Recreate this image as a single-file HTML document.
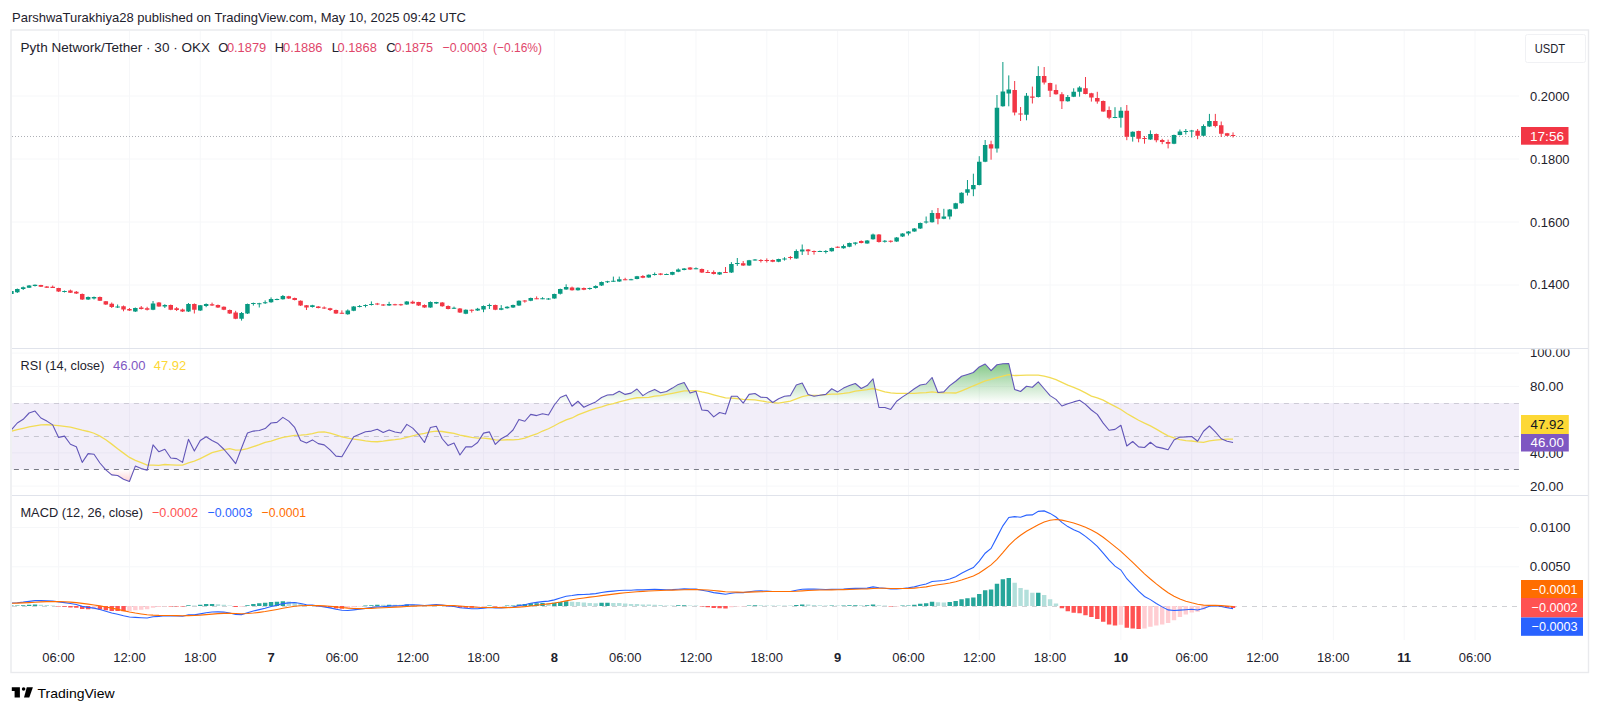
<!DOCTYPE html>
<html><head><meta charset="utf-8"><style>
html,body{margin:0;padding:0;background:#fff;width:1600px;height:712px;overflow:hidden}
svg{display:block}
</style></head><body>
<svg width="1600" height="712" viewBox="0 0 1600 712" font-family="Liberation Sans, sans-serif">
<rect x="0" y="0" width="1600" height="712" fill="#fff"/>
<rect x="11" y="30" width="1577.5" height="642.5" fill="#fff" stroke="#e9eaed" stroke-width="1.4"/>
<defs><clipPath id="plot"><rect x="12" y="31" width="1507" height="609"/></clipPath></defs><g clip-path="url(#plot)"><path d="M58.61 31V640 M129.43 31V640 M200.25 31V640 M271.07 31V640 M341.89 31V640 M412.71 31V640 M483.53 31V640 M554.35 31V640 M625.17 31V640 M695.99 31V640 M766.8 31V640 M837.62 31V640 M908.44 31V640 M979.26 31V640 M1050.08 31V640 M1120.9 31V640 M1191.72 31V640 M1262.54 31V640 M1333.36 31V640 M1404.18 31V640 M1475 31V640 M12 96H1519 M12 159H1519 M12 222H1519 M12 285H1519 M12 353.1H1519 M12 386.4H1519 M12 452.9H1519 M12 486.1H1519 M12 527.6H1519 M12 566.8H1519" stroke="#f6f7f9" stroke-width="1" fill="none"/>
<rect x="12" y="403" width="1507" height="66.5" fill="#7e57c2" fill-opacity="0.1"/>
<path d="M12 403.5H1519" stroke="#787b86" stroke-opacity="0.3" stroke-dasharray="5 5" stroke-dashoffset="8.1" stroke-width="1"/>
<path d="M12 436.5H1519" stroke="#787b86" stroke-opacity="0.35" stroke-dasharray="5 5" stroke-dashoffset="8.1" stroke-width="1"/>
<path d="M12 469.5H1519" stroke="#787b86" stroke-opacity="1" stroke-dasharray="5 5" stroke-dashoffset="8.1" stroke-width="1"/>
<path d="M12 136.5H1521" stroke="#787b86" stroke-opacity="0.6" stroke-dasharray="1 2" stroke-width="1"/>
<path d="M11.4 290V294.5 M17.3 288.5V293 M23.2 286.5V290 M29.1 285V288 M35.01 284.5V286.5 M64.51 290.5V292.5 M88.12 296.5V300 M94.02 296.5V299.5 M117.63 304.5V308 M135.33 307.5V312 M153.04 301V310.2 M164.84 304.2V308 M188.45 303V312 M200.25 305V311 M206.15 303.4V307.2 M241.56 312V320.6 M247.46 303.6V314 M253.37 302.6V305.6 M259.27 302.8V307.5 M265.17 300.4V304 M271.07 297.4V302.8 M276.97 298.5V300.2 M282.87 295V299.6 M312.38 304.8V307.6 M347.79 309.4V314.8 M353.69 306V311.2 M359.59 305.1V307.4 M365.5 304.4V307.4 M371.4 301.4V305.5 M389.1 301.8V306 M406.81 301V304.8 M430.41 301.4V307.8 M436.32 301.8V304 M454.02 306.6V309 M465.82 309.4V314.2 M477.63 307.9V311 M483.53 305.4V312.2 M489.43 303.6V309 M501.23 305.1V310.2 M507.13 306.2V308.7 M513.04 304.6V308 M518.94 300.4V306 M530.74 297.6V301.2 M542.54 297.2V299.2 M548.45 298V299.8 M554.35 293.6V298.8 M560.25 288.6V294.5 M566.15 284.3V289.8 M577.95 287.4V290.6 M589.76 287.6V289.8 M595.66 285.3V288.6 M601.56 281.5V286 M607.46 280.8V283 M613.36 276.6V281.9 M619.26 276.6V281.9 M631.07 278.8V280.2 M636.97 275.9V279.3 M648.77 274.4V277.8 M654.67 272.5V275.5 M666.48 273.6V275 M672.38 271.7V275.2 M678.28 268.4V272.2 M684.18 268V270.3 M695.99 267.4V269.2 M719.59 271.9V274.9 M731.4 262.1V273 M737.3 258V265.9 M749.1 259.9V265.9 M755 259V260.6 M778.61 258.7V262.2 M784.51 257.2V260.6 M796.31 249.4V258.8 M802.21 244.5V255 M819.92 250.6V252 M825.82 250.1V253.5 M831.72 247.5V251.7 M843.53 244.5V248.7 M849.43 242.6V247.2 M855.33 242.2V245.3 M867.13 240V243.8 M873.03 233.6V239.7 M884.84 240V242.6 M896.64 237V241.9 M902.54 233.2V237 M908.44 231V235.5 M914.34 228V231.8 M920.25 222.5V229 M926.15 216.5V223.6 M932.05 210.2V222.6 M943.85 208.8V219.2 M949.75 209V219.4 M955.66 202.8V209.2 M961.56 192.3V203.6 M967.46 180V195.5 M973.36 173.7V196.2 M979.26 156.2V185.4 M985.16 140V162.2 M996.97 95V152.6 M1002.87 62V106.7 M1008.77 75.4V106.3 M1026.48 93V120.3 M1038.28 66.2V97.5 M1067.79 95V101.7 M1073.69 88.3V97.1 M1079.59 86.2V96.7 M1115 107.2V118.2 M1120.9 107.2V127.6 M1132.7 131.4V141.6 M1150.41 130.4V139.9 M1174.02 134.6V144.2 M1179.92 129.5V135.4 M1185.82 129V134.5 M1191.72 129.9V137.5 M1203.52 124.4V136.2 M1209.42 113.9V126.9" stroke="#089981" stroke-width="1" fill="none"/>
<path d="M40.91 284.8V287 M46.81 286V288 M52.71 285.5V288 M58.61 287.8V292 M70.42 289.6V293 M76.32 291V294 M82.22 293.5V300 M99.92 296.5V301 M105.83 301V305 M111.73 302.5V308 M123.53 305.5V311.3 M129.43 308V311 M141.24 306V309.5 M147.14 306.8V310.5 M158.94 302V306.8 M170.74 304.5V310.2 M176.64 307V311 M182.55 308.6V312 M194.35 303.4V313.5 M212.05 302.6V306 M217.96 304.5V308 M223.86 306.4V310.2 M229.76 309.5V314 M235.66 310.8V319.2 M288.78 295.8V299 M294.68 297.6V300.4 M300.58 300.4V306 M306.48 305V310 M318.28 306V308.4 M324.18 306.4V309 M330.09 307.8V311 M335.99 309.6V314 M341.89 310.4V313.8 M377.3 302.9V305.1 M383.2 304V306 M395 303.8V305.4 M400.91 303.8V305.8 M412.71 300.6V304 M418.61 301.8V306 M424.51 304.4V307.8 M442.22 302V306.8 M448.12 305.4V309.4 M459.92 308V313 M471.72 309.4V312.6 M495.33 304.6V310.2 M524.84 300V302.7 M536.64 296.4V299.2 M572.05 286.6V290.6 M583.86 287.5V290.2 M625.17 277.8V280.2 M642.87 275.1V278.2 M660.58 273.2V275.2 M690.08 267V270 M701.89 268.5V273 M707.79 270V273 M713.69 270.4V274.5 M725.49 267V273 M743.2 261V265.9 M760.9 259.1V262.5 M766.8 258.4V262.5 M772.71 259.5V262.2 M790.41 256.1V259.5 M808.12 249V255 M814.02 250.5V254.6 M837.62 246.4V248 M861.23 240.4V243.4 M878.94 234V242.6 M890.74 240.4V242.6 M937.95 208V224.3 M991.07 140.7V159.7 M1014.67 81V115.4 M1020.57 107V121 M1032.38 86.6V103.5 M1044.18 67V84.5 M1050.08 82.7V97 M1055.98 84.5V94.7 M1061.88 92.2V109 M1085.49 77V94.3 M1091.39 92.8V101.6 M1097.29 91.8V103.7 M1103.2 100.5V111.8 M1109.1 106.5V119.2 M1126.8 105V140.2 M1138.61 130.7V142.3 M1144.51 136V143.7 M1156.31 133.5V142.3 M1162.21 138.8V144.2 M1168.11 139.6V148.4 M1197.62 129V139.2 M1215.33 113.9V127.4 M1221.23 121.5V137 M1227.13 132.9V136.2 M1233.03 132.4V137.5" stroke="#f23645" stroke-width="1" fill="none"/>
<path d="M9.15 291h4.5v3h-4.5z M15.05 289h4.5v3.3h-4.5z M20.95 287.3h4.5v1.7h-4.5z M26.85 285.6h4.5v2.1h-4.5z M32.76 284.8h4.5v1.2h-4.5z M62.26 291h4.5v1h-4.5z M85.87 297h4.5v2.5h-4.5z M91.77 297h4.5v1.6h-4.5z M115.38 306.6h4.5v1h-4.5z M133.08 307.9h4.5v3.7h-4.5z M150.79 303.4h4.5v6.4h-4.5z M162.59 304.9h4.5v1.5h-4.5z M186.2 304h4.5v7.6h-4.5z M198 305.3h4.5v5.2h-4.5z M203.9 304.1h4.5v1.9h-4.5z M239.31 313.1h4.5v5.7h-4.5z M245.21 304.1h4.5v9.4h-4.5z M251.12 303h4.5v1h-4.5z M257.02 303.2h4.5v1h-4.5z M262.92 302.2h4.5v1.1h-4.5z M268.82 298.9h4.5v3.4h-4.5z M274.72 299h4.5v1h-4.5z M280.62 295.9h4.5v3.4h-4.5z M310.13 305.3h4.5v1.8h-4.5z M345.54 310.5h4.5v3.8h-4.5z M351.44 306.6h4.5v4.2h-4.5z M357.34 306h4.5v1h-4.5z M363.25 305h4.5v1h-4.5z M369.15 304h4.5v1h-4.5z M386.85 304h4.5v1.5h-4.5z M404.56 301.4h4.5v3h-4.5z M428.16 302.1h4.5v5.3h-4.5z M434.07 302.1h4.5v1.5h-4.5z M451.77 307.8h4.5v1h-4.5z M463.57 309.8h4.5v4h-4.5z M475.38 308.7h4.5v1.9h-4.5z M481.28 305.9h4.5v3.6h-4.5z M487.18 305h4.5v1h-4.5z M498.98 308.3h4.5v1.5h-4.5z M504.88 306.7h4.5v1.6h-4.5z M510.79 305.1h4.5v2.4h-4.5z M516.69 300.8h4.5v4.7h-4.5z M528.49 298h4.5v2.8h-4.5z M540.29 298.2h4.5v1h-4.5z M546.2 298.4h4.5v1h-4.5z M552.1 294.1h4.5v4.3h-4.5z M558 289h4.5v4.7h-4.5z M563.9 287h4.5v2.4h-4.5z M575.7 287.8h4.5v2.4h-4.5z M587.51 288h4.5v1h-4.5z M593.41 286h4.5v1.9h-4.5z M599.31 281.9h4.5v3.7h-4.5z M605.21 281.2h4.5v1h-4.5z M611.11 280.8h4.5v1h-4.5z M617.01 279.3h4.5v2.2h-4.5z M628.82 279.2h4.5v1h-4.5z M634.72 276.3h4.5v2.6h-4.5z M646.52 274.8h4.5v2.6h-4.5z M652.42 274h4.5v1.1h-4.5z M664.23 274h4.5v1h-4.5z M670.13 272.1h4.5v2.7h-4.5z M676.03 269.5h4.5v2.3h-4.5z M681.93 268.4h4.5v1.5h-4.5z M693.74 268.2h4.5v1h-4.5z M717.34 272.3h4.5v2.2h-4.5z M729.15 264h4.5v8.6h-4.5z M735.05 263.1h4.5v1h-4.5z M746.85 260.3h4.5v5.2h-4.5z M752.75 259.6h4.5v1h-4.5z M776.36 259.1h4.5v2.7h-4.5z M782.26 258.5h4.5v1h-4.5z M794.06 250.9h4.5v7.5h-4.5z M799.96 249.4h4.5v2.2h-4.5z M817.67 251h4.5v1h-4.5z M823.57 251h4.5v1h-4.5z M829.47 247.9h4.5v3.4h-4.5z M841.28 246h4.5v2.3h-4.5z M847.18 243h4.5v3.8h-4.5z M853.08 242.6h4.5v1.2h-4.5z M864.88 240.4h4.5v3h-4.5z M870.78 234.4h4.5v4.9h-4.5z M882.59 240.8h4.5v1h-4.5z M894.39 237.4h4.5v4.1h-4.5z M900.29 233.6h4.5v3h-4.5z M906.19 231.4h4.5v2.2h-4.5z M912.09 228.4h4.5v3h-4.5z M918 222.9h4.5v5.6h-4.5z M923.9 221.5h4.5v1h-4.5z M929.8 213h4.5v9.2h-4.5z M941.6 216.6h4.5v2.1h-4.5z M947.5 209.5h4.5v7h-4.5z M953.41 203.2h4.5v5.6h-4.5z M959.31 192.7h4.5v10.5h-4.5z M965.21 189.2h4.5v3.5h-4.5z M971.11 185h4.5v4.2h-4.5z M977.01 161.8h4.5v23.2h-4.5z M982.91 144.9h4.5v16.9h-4.5z M994.72 107.7h4.5v40.7h-4.5z M1000.62 91.5h4.5v14.8h-4.5z M1006.52 89.4h4.5v4.2h-4.5z M1024.23 95.7h4.5v19h-4.5z M1036.03 76h4.5v21.1h-4.5z M1065.54 97.1h4.5v4.2h-4.5z M1071.44 91.8h4.5v4.9h-4.5z M1077.34 87.6h4.5v4.2h-4.5z M1112.75 116.9h4.5v1h-4.5z M1118.65 110.7h4.5v7.1h-4.5z M1130.45 131.8h4.5v4.9h-4.5z M1148.16 133.9h4.5v5.6h-4.5z M1171.77 135h4.5v8.8h-4.5z M1177.67 131.6h4.5v3.4h-4.5z M1183.57 131h4.5v1h-4.5z M1189.47 130.4h4.5v1h-4.5z M1201.27 126.1h4.5v9.7h-4.5z M1207.17 121.1h4.5v5.4h-4.5z" fill="#089981"/>
<path d="M38.66 285h4.5v1.8h-4.5z M44.56 286.4h4.5v1.3h-4.5z M50.46 286.8h4.5v1.1h-4.5z M56.36 288.1h4.5v3.4h-4.5z M68.17 290.6h4.5v2.1h-4.5z M74.07 291.7h4.5v1.7h-4.5z M79.97 294h4.5v5.5h-4.5z M97.67 297h4.5v3.7h-4.5z M103.58 301.2h4.5v3.3h-4.5z M109.48 303.7h4.5v3.3h-4.5z M121.28 306.2h4.5v3.4h-4.5z M127.18 309h4.5v1.5h-4.5z M138.99 307.5h4.5v1.5h-4.5z M144.89 308.2h4.5v1.5h-4.5z M156.69 302.6h4.5v3.8h-4.5z M168.49 304.9h4.5v4.9h-4.5z M174.39 308.2h4.5v1.8h-4.5z M180.3 309.4h4.5v2.2h-4.5z M192.1 304h4.5v5.8h-4.5z M209.8 304.2h4.5v1.4h-4.5z M215.71 304.9h4.5v2.6h-4.5z M221.61 306.8h4.5v3h-4.5z M227.51 310h4.5v3.5h-4.5z M233.41 312.4h4.5v6.4h-4.5z M286.53 296.3h4.5v2.2h-4.5z M292.43 298.1h4.5v1.9h-4.5z M298.33 300.8h4.5v4.8h-4.5z M304.23 305.3h4.5v2.2h-4.5z M316.03 306.4h4.5v1.5h-4.5z M321.93 307.6h4.5v1h-4.5z M327.84 308.3h4.5v1.8h-4.5z M333.74 310.1h4.5v3.4h-4.5z M339.64 312.8h4.5v1h-4.5z M375.05 303.4h4.5v1h-4.5z M380.95 304.4h4.5v1.1h-4.5z M392.75 304.2h4.5v1h-4.5z M398.66 304.2h4.5v1h-4.5z M410.46 301.8h4.5v1.8h-4.5z M416.36 302.1h4.5v3.4h-4.5z M422.26 305.1h4.5v2.3h-4.5z M439.97 302.5h4.5v3.8h-4.5z M445.87 305.9h4.5v3h-4.5z M457.67 308.5h4.5v4.1h-4.5z M469.47 309.8h4.5v1h-4.5z M493.08 305.1h4.5v4.7h-4.5z M522.59 300.4h4.5v1.2h-4.5z M534.39 298.2h4.5v1h-4.5z M569.8 287.4h4.5v2.8h-4.5z M581.61 287.9h4.5v1.9h-4.5z M622.92 279.2h4.5v1h-4.5z M640.62 275.9h4.5v1.9h-4.5z M658.33 273.6h4.5v1.2h-4.5z M687.83 267.4h4.5v2.2h-4.5z M699.64 268.9h4.5v3.7h-4.5z M705.54 272h4.5v1h-4.5z M711.44 271.9h4.5v2.2h-4.5z M723.24 272h4.5v1h-4.5z M740.95 263.3h4.5v2.2h-4.5z M758.65 259.9h4.5v1h-4.5z M764.55 259.9h4.5v1h-4.5z M770.46 259.9h4.5v1.9h-4.5z M788.16 257h4.5v1h-4.5z M805.87 249.4h4.5v1.9h-4.5z M811.77 251h4.5v1h-4.5z M835.37 246.8h4.5v1h-4.5z M858.98 241.1h4.5v1.9h-4.5z M876.69 234.4h4.5v7.5h-4.5z M888.49 240.8h4.5v1h-4.5z M935.7 213h4.5v5.7h-4.5z M988.82 144.2h4.5v4.2h-4.5z M1012.42 90.1h4.5v22.5h-4.5z M1018.32 113.5h4.5v1h-4.5z M1030.13 96.4h4.5v1.4h-4.5z M1041.93 76h4.5v6.4h-4.5z M1047.83 83.1h4.5v7.7h-4.5z M1053.73 90.1h4.5v4.2h-4.5z M1059.63 94.3h4.5v7h-4.5z M1083.24 88.3h4.5v5.6h-4.5z M1089.14 93.2h4.5v4.2h-4.5z M1095.04 98.1h4.5v3.5h-4.5z M1100.95 100.9h4.5v10.5h-4.5z M1106.85 110h4.5v7.8h-4.5z M1124.55 110.7h4.5v26h-4.5z M1136.36 131.1h4.5v7.7h-4.5z M1142.26 138h4.5v1h-4.5z M1154.06 133.9h4.5v6.3h-4.5z M1159.96 140h4.5v2.1h-4.5z M1165.86 142.1h4.5v1.7h-4.5z M1195.37 130.7h4.5v5.1h-4.5z M1213.08 121.1h4.5v5h-4.5z M1218.98 125.3h4.5v8.4h-4.5z M1224.88 133.3h4.5v2.5h-4.5z M1230.78 135h4.5v1h-4.5z" fill="#f23645"/>
<defs><linearGradient id="gob" gradientUnits="userSpaceOnUse" x1="0" y1="353.2" x2="0" y2="403"><stop offset="0" stop-color="#4caf50" stop-opacity="0.85"/><stop offset="1" stop-color="#4caf50" stop-opacity="0"/></linearGradient><linearGradient id="gos" gradientUnits="userSpaceOnUse" x1="0" y1="469.5" x2="0" y2="519"><stop offset="0" stop-color="#ff5252" stop-opacity="0"/><stop offset="1" stop-color="#ff5252" stop-opacity="1"/></linearGradient><clipPath id="cob"><rect x="0" y="340" width="1600" height="63"/></clipPath><clipPath id="cos"><rect x="0" y="469.5" width="1600" height="30"/></clipPath></defs>
<polygon points="11.4,403 11.4,429.9 17.3,423 23.2,419.3 29.1,413 35.01,411.1 40.91,418 46.81,421.1 52.71,424.9 58.61,437.4 64.51,436.1 70.42,444.3 76.32,446.8 82.22,462.4 88.12,453.6 94.02,454.3 99.92,463 105.83,469.9 111.73,474.9 117.63,475.5 123.53,479.3 129.43,481.5 135.33,466.1 141.24,468.6 147.14,470.3 153.04,444.9 158.94,451.8 164.84,449.3 170.74,458 176.64,458.6 182.55,462.4 188.45,439.3 194.35,451.1 200.25,440.5 206.15,436.8 212.05,440.5 217.96,443.6 223.86,449.25 229.76,456.1 235.66,463.6 241.56,448 247.46,433 253.37,431.1 259.27,430.5 265.17,428.6 271.07,423 276.97,422.4 282.87,417.4 288.78,421.1 294.68,427.4 300.58,440.5 306.48,443 312.38,439.9 318.28,443.6 324.18,444.9 330.09,449.9 335.99,456.1 341.89,456.75 347.79,446.75 353.69,436.75 359.59,434.25 365.5,431.75 371.4,431.1 377.3,429.25 383.2,432.4 389.1,429.9 395,432 400.91,433 406.81,424.4 412.71,428.1 418.61,434.4 424.51,442.5 430.41,427.5 436.32,426.25 442.22,438.75 448.12,445.6 454.02,443.1 459.92,455 465.82,446.9 471.72,446.9 477.63,442.5 483.53,433.1 489.43,431.9 495.33,444.4 501.23,438.75 507.13,435.6 513.04,430 518.94,419.4 524.84,421.25 530.74,414.4 536.64,415.6 542.54,413.75 548.45,415 554.35,405 560.25,397.5 566.15,395 572.05,406.25 577.95,401.25 583.86,407.25 589.76,404.4 595.66,401.9 601.56,397.5 607.46,395 613.36,394.6 619.26,391.25 625.17,394.4 631.07,393.1 636.97,389 642.87,395.6 648.77,391.9 654.67,389.4 660.58,392.75 666.48,391.5 672.38,388.1 678.28,384.4 684.18,382.5 690.08,393.1 695.99,391.25 701.89,410 707.79,410.6 713.69,416.9 719.59,412.5 725.49,414 731.4,396.25 737.3,396.25 743.2,403.1 749.1,394.4 755,393.5 760.9,397.25 766.8,397.5 772.71,402.5 778.61,398.75 784.51,396.25 790.41,395.6 796.31,385 802.21,383.1 808.12,394.4 814.02,396.25 819.92,395.25 825.82,394.4 831.72,388.75 837.62,391.9 843.53,388.1 849.43,385.6 855.33,383.5 861.23,388.5 867.13,385.6 873.03,378.75 878.94,407.5 884.84,407.5 890.74,409.4 896.64,401.25 902.54,396.9 908.44,393.1 914.34,388.75 920.25,385 926.15,384 932.05,377.5 937.95,392.5 943.85,391.9 949.75,385.6 955.66,381.25 961.56,376.25 967.46,374.4 973.36,372.5 979.26,366.9 985.16,364 991.07,370.6 996.97,364.75 1002.87,363.75 1008.77,363.5 1014.67,389.4 1020.57,391.5 1026.48,386.25 1032.38,387.25 1038.28,381.9 1044.18,388.75 1050.08,395.6 1055.98,399.4 1061.88,406 1067.79,403.75 1073.69,401.9 1079.59,400.25 1085.49,404.4 1091.39,410 1097.29,414.4 1103.2,423.1 1109.1,430.25 1115,429.4 1120.9,425.25 1126.8,446 1132.7,441.5 1138.61,446.9 1144.51,447.5 1150.41,442.25 1156.31,446.9 1162.21,448.1 1168.11,449.75 1174.02,440 1179.92,437.1 1185.82,436.9 1191.72,436.5 1197.62,441.25 1203.52,431.25 1209.42,426 1215.33,431.9 1221.23,438.75 1227.13,441.25 1233.03,442.5 1233.03,403" fill="url(#gob)" clip-path="url(#cob)"/>
<polygon points="11.4,469.5 11.4,429.9 17.3,423 23.2,419.3 29.1,413 35.01,411.1 40.91,418 46.81,421.1 52.71,424.9 58.61,437.4 64.51,436.1 70.42,444.3 76.32,446.8 82.22,462.4 88.12,453.6 94.02,454.3 99.92,463 105.83,469.9 111.73,474.9 117.63,475.5 123.53,479.3 129.43,481.5 135.33,466.1 141.24,468.6 147.14,470.3 153.04,444.9 158.94,451.8 164.84,449.3 170.74,458 176.64,458.6 182.55,462.4 188.45,439.3 194.35,451.1 200.25,440.5 206.15,436.8 212.05,440.5 217.96,443.6 223.86,449.25 229.76,456.1 235.66,463.6 241.56,448 247.46,433 253.37,431.1 259.27,430.5 265.17,428.6 271.07,423 276.97,422.4 282.87,417.4 288.78,421.1 294.68,427.4 300.58,440.5 306.48,443 312.38,439.9 318.28,443.6 324.18,444.9 330.09,449.9 335.99,456.1 341.89,456.75 347.79,446.75 353.69,436.75 359.59,434.25 365.5,431.75 371.4,431.1 377.3,429.25 383.2,432.4 389.1,429.9 395,432 400.91,433 406.81,424.4 412.71,428.1 418.61,434.4 424.51,442.5 430.41,427.5 436.32,426.25 442.22,438.75 448.12,445.6 454.02,443.1 459.92,455 465.82,446.9 471.72,446.9 477.63,442.5 483.53,433.1 489.43,431.9 495.33,444.4 501.23,438.75 507.13,435.6 513.04,430 518.94,419.4 524.84,421.25 530.74,414.4 536.64,415.6 542.54,413.75 548.45,415 554.35,405 560.25,397.5 566.15,395 572.05,406.25 577.95,401.25 583.86,407.25 589.76,404.4 595.66,401.9 601.56,397.5 607.46,395 613.36,394.6 619.26,391.25 625.17,394.4 631.07,393.1 636.97,389 642.87,395.6 648.77,391.9 654.67,389.4 660.58,392.75 666.48,391.5 672.38,388.1 678.28,384.4 684.18,382.5 690.08,393.1 695.99,391.25 701.89,410 707.79,410.6 713.69,416.9 719.59,412.5 725.49,414 731.4,396.25 737.3,396.25 743.2,403.1 749.1,394.4 755,393.5 760.9,397.25 766.8,397.5 772.71,402.5 778.61,398.75 784.51,396.25 790.41,395.6 796.31,385 802.21,383.1 808.12,394.4 814.02,396.25 819.92,395.25 825.82,394.4 831.72,388.75 837.62,391.9 843.53,388.1 849.43,385.6 855.33,383.5 861.23,388.5 867.13,385.6 873.03,378.75 878.94,407.5 884.84,407.5 890.74,409.4 896.64,401.25 902.54,396.9 908.44,393.1 914.34,388.75 920.25,385 926.15,384 932.05,377.5 937.95,392.5 943.85,391.9 949.75,385.6 955.66,381.25 961.56,376.25 967.46,374.4 973.36,372.5 979.26,366.9 985.16,364 991.07,370.6 996.97,364.75 1002.87,363.75 1008.77,363.5 1014.67,389.4 1020.57,391.5 1026.48,386.25 1032.38,387.25 1038.28,381.9 1044.18,388.75 1050.08,395.6 1055.98,399.4 1061.88,406 1067.79,403.75 1073.69,401.9 1079.59,400.25 1085.49,404.4 1091.39,410 1097.29,414.4 1103.2,423.1 1109.1,430.25 1115,429.4 1120.9,425.25 1126.8,446 1132.7,441.5 1138.61,446.9 1144.51,447.5 1150.41,442.25 1156.31,446.9 1162.21,448.1 1168.11,449.75 1174.02,440 1179.92,437.1 1185.82,436.9 1191.72,436.5 1197.62,441.25 1203.52,431.25 1209.42,426 1215.33,431.9 1221.23,438.75 1227.13,441.25 1233.03,442.5 1233.03,469.5" fill="url(#gos)" clip-path="url(#cos)"/>
<polyline points="11.4,431.1 17.3,429.73 23.2,428.27 29.1,426.98 35.01,425.93 40.91,424.87 46.81,424.75 52.71,425.15 58.61,425.58 64.51,426.4 70.42,427.22 76.32,428.63 82.22,430.22 88.12,431.49 94.02,433.24 99.92,436.09 105.83,439.71 111.73,444.13 117.63,448.73 123.53,453.11 129.43,457.42 135.33,460.36 141.24,462.59 147.14,465.04 153.04,465.08 158.94,465.44 164.84,464.5 170.74,464.81 176.64,465.12 182.55,465.08 188.45,462.89 194.35,461.19 200.25,458.69 206.15,455.66 212.05,452.73 217.96,451.12 223.86,449.74 229.76,448.73 235.66,450.06 241.56,449.79 247.46,448.63 253.37,446.7 259.27,444.7 265.17,442.28 271.07,441.12 276.97,439.07 282.87,437.42 288.78,436.3 294.68,435.36 300.58,435.14 306.48,434.69 312.38,433.54 318.28,432.11 324.18,431.89 330.09,433.09 335.99,434.88 341.89,436.75 347.79,438.05 353.69,439.03 359.59,439.88 365.5,440.9 371.4,441.62 377.3,441.75 383.2,441.17 389.1,440.24 395,439.67 400.91,438.91 406.81,437.45 412.71,435.89 418.61,434.34 424.51,433.32 430.41,431.95 436.32,431.2 442.22,431.52 448.12,432.51 454.02,433.37 459.92,435.21 465.82,436.24 471.72,437.46 477.63,438.21 483.53,438.21 489.43,438.75 495.33,439.91 501.23,440.22 507.13,439.73 513.04,439.91 518.94,439.42 524.84,438.17 530.74,435.94 536.64,433.98 542.54,431.03 548.45,428.75 554.35,425.76 560.25,422.55 566.15,419.82 572.05,417.99 577.95,414.91 583.86,412.66 589.76,410.43 595.66,408.42 601.56,406.86 607.46,404.99 613.36,403.57 619.26,401.83 625.17,400.45 631.07,398.89 636.97,397.74 642.87,397.61 648.77,397.39 654.67,396.18 660.58,395.57 666.48,394.45 672.38,393.29 678.28,392.04 684.18,390.96 690.08,390.83 695.99,390.59 701.89,391.93 707.79,393.09 713.69,394.79 719.59,396.46 725.49,397.78 731.4,398.09 737.3,398.58 743.2,399.32 749.1,399.53 755,399.91 760.9,400.83 766.8,401.9 772.71,402.57 778.61,403.11 784.51,402.12 790.41,401.05 796.31,398.78 802.21,396.68 808.12,395.28 814.02,395.28 819.92,395.2 825.82,394.58 831.72,394.18 837.62,394.06 843.53,393.41 849.43,392.56 855.33,391.2 861.23,390.47 867.13,389.71 873.03,388.51 878.94,390.11 884.84,391.86 890.74,392.93 896.64,393.29 902.54,393.4 908.44,393.31 914.34,393.31 920.25,392.82 926.15,392.53 932.05,391.95 937.95,392.59 943.85,392.83 949.75,392.83 955.66,393.01 961.56,390.78 967.46,388.41 973.36,385.78 979.26,383.32 985.16,380.97 991.07,379.37 996.97,377.65 1002.87,376.14 1008.77,374.67 1014.67,375.52 1020.57,375.45 1026.48,375.05 1032.38,375.16 1038.28,375.21 1044.18,376.1 1050.08,377.62 1055.98,379.54 1061.88,382.33 1067.79,385.17 1073.69,387.41 1079.59,389.94 1085.49,392.85 1091.39,396.17 1097.29,397.95 1103.2,400.21 1109.1,403.35 1115,406.36 1120.9,409.46 1126.8,413.55 1132.7,416.83 1138.61,420.22 1144.51,423.19 1150.41,425.94 1156.31,429.15 1162.21,432.57 1168.11,435.81 1174.02,437.95 1179.92,439.57 1185.82,440.56 1191.72,441 1197.62,441.85 1203.52,442.28 1209.42,440.85 1215.33,440.16 1221.23,439.58 1227.13,439.14 1233.03,439.15" fill="none" stroke="#f2dc55" stroke-width="1.3"/>
<polyline points="11.4,429.9 17.3,423 23.2,419.3 29.1,413 35.01,411.1 40.91,418 46.81,421.1 52.71,424.9 58.61,437.4 64.51,436.1 70.42,444.3 76.32,446.8 82.22,462.4 88.12,453.6 94.02,454.3 99.92,463 105.83,469.9 111.73,474.9 117.63,475.5 123.53,479.3 129.43,481.5 135.33,466.1 141.24,468.6 147.14,470.3 153.04,444.9 158.94,451.8 164.84,449.3 170.74,458 176.64,458.6 182.55,462.4 188.45,439.3 194.35,451.1 200.25,440.5 206.15,436.8 212.05,440.5 217.96,443.6 223.86,449.25 229.76,456.1 235.66,463.6 241.56,448 247.46,433 253.37,431.1 259.27,430.5 265.17,428.6 271.07,423 276.97,422.4 282.87,417.4 288.78,421.1 294.68,427.4 300.58,440.5 306.48,443 312.38,439.9 318.28,443.6 324.18,444.9 330.09,449.9 335.99,456.1 341.89,456.75 347.79,446.75 353.69,436.75 359.59,434.25 365.5,431.75 371.4,431.1 377.3,429.25 383.2,432.4 389.1,429.9 395,432 400.91,433 406.81,424.4 412.71,428.1 418.61,434.4 424.51,442.5 430.41,427.5 436.32,426.25 442.22,438.75 448.12,445.6 454.02,443.1 459.92,455 465.82,446.9 471.72,446.9 477.63,442.5 483.53,433.1 489.43,431.9 495.33,444.4 501.23,438.75 507.13,435.6 513.04,430 518.94,419.4 524.84,421.25 530.74,414.4 536.64,415.6 542.54,413.75 548.45,415 554.35,405 560.25,397.5 566.15,395 572.05,406.25 577.95,401.25 583.86,407.25 589.76,404.4 595.66,401.9 601.56,397.5 607.46,395 613.36,394.6 619.26,391.25 625.17,394.4 631.07,393.1 636.97,389 642.87,395.6 648.77,391.9 654.67,389.4 660.58,392.75 666.48,391.5 672.38,388.1 678.28,384.4 684.18,382.5 690.08,393.1 695.99,391.25 701.89,410 707.79,410.6 713.69,416.9 719.59,412.5 725.49,414 731.4,396.25 737.3,396.25 743.2,403.1 749.1,394.4 755,393.5 760.9,397.25 766.8,397.5 772.71,402.5 778.61,398.75 784.51,396.25 790.41,395.6 796.31,385 802.21,383.1 808.12,394.4 814.02,396.25 819.92,395.25 825.82,394.4 831.72,388.75 837.62,391.9 843.53,388.1 849.43,385.6 855.33,383.5 861.23,388.5 867.13,385.6 873.03,378.75 878.94,407.5 884.84,407.5 890.74,409.4 896.64,401.25 902.54,396.9 908.44,393.1 914.34,388.75 920.25,385 926.15,384 932.05,377.5 937.95,392.5 943.85,391.9 949.75,385.6 955.66,381.25 961.56,376.25 967.46,374.4 973.36,372.5 979.26,366.9 985.16,364 991.07,370.6 996.97,364.75 1002.87,363.75 1008.77,363.5 1014.67,389.4 1020.57,391.5 1026.48,386.25 1032.38,387.25 1038.28,381.9 1044.18,388.75 1050.08,395.6 1055.98,399.4 1061.88,406 1067.79,403.75 1073.69,401.9 1079.59,400.25 1085.49,404.4 1091.39,410 1097.29,414.4 1103.2,423.1 1109.1,430.25 1115,429.4 1120.9,425.25 1126.8,446 1132.7,441.5 1138.61,446.9 1144.51,447.5 1150.41,442.25 1156.31,446.9 1162.21,448.1 1168.11,449.75 1174.02,440 1179.92,437.1 1185.82,436.9 1191.72,436.5 1197.62,441.25 1203.52,431.25 1209.42,426 1215.33,431.9 1221.23,438.75 1227.13,441.25 1233.03,442.5" fill="none" stroke="#6256b8" stroke-width="1.1" stroke-linejoin="round"/>
<path d="M12 606.5H1519" stroke="#787b86" stroke-opacity="0.35" stroke-dasharray="5 5"/>
<path d="M9.2 605.4h4.4v0.6h-4.4z M15.1 605.4h4.4v0.6h-4.4z M21 605.2h4.4v0.8h-4.4z M26.9 604.75h4.4v1.25h-4.4z M32.81 604.43h4.4v1.57h-4.4z M186.25 605.33h4.4v0.67h-4.4z M198.05 604.73h4.4v1.27h-4.4z M203.95 604.08h4.4v1.92h-4.4z M209.85 603.93h4.4v2.07h-4.4z M245.26 605.22h4.4v0.78h-4.4z M251.17 603.97h4.4v2.03h-4.4z M257.07 603.27h4.4v2.73h-4.4z M262.97 602.75h4.4v3.25h-4.4z M268.87 602.02h4.4v3.98h-4.4z M274.77 601.75h4.4v4.25h-4.4z M280.67 601.27h4.4v4.73h-4.4z M363.3 605.4h4.4v0.6h-4.4z M369.2 605.16h4.4v0.84h-4.4z M375.1 604.79h4.4v1.21h-4.4z M386.9 604.68h4.4v1.32h-4.4z M404.61 604.44h4.4v1.56h-4.4z M428.21 605.31h4.4v0.69h-4.4z M434.12 605.09h4.4v0.91h-4.4z M487.23 605.4h4.4v0.6h-4.4z M504.93 605.4h4.4v0.6h-4.4z M510.84 605.4h4.4v0.6h-4.4z M516.74 604.5h4.4v1.5h-4.4z M522.64 604.1h4.4v1.9h-4.4z M528.54 603.36h4.4v2.64h-4.4z M534.44 603.16h4.4v2.84h-4.4z M540.34 603.1h4.4v2.9h-4.4z M552.15 602.84h4.4v3.16h-4.4z M558.05 601.95h4.4v4.05h-4.4z M563.95 601.32h4.4v4.68h-4.4z M599.36 602.85h4.4v3.15h-4.4z M605.26 602.8h4.4v3.2h-4.4z M676.08 605.26h4.4v0.74h-4.4z M681.98 605.15h4.4v0.85h-4.4z M746.9 605.4h4.4v0.6h-4.4z M752.8 605.16h4.4v0.84h-4.4z M794.11 605.06h4.4v0.94h-4.4z M800.01 604.43h4.4v1.57h-4.4z M829.52 605.4h4.4v0.6h-4.4z M841.33 605.4h4.4v0.6h-4.4z M847.23 605.22h4.4v0.78h-4.4z M853.13 605.14h4.4v0.86h-4.4z M864.93 605.26h4.4v0.74h-4.4z M870.83 604.44h4.4v1.56h-4.4z M900.34 605.4h4.4v0.6h-4.4z M906.24 605.4h4.4v0.6h-4.4z M912.14 604.79h4.4v1.21h-4.4z M918.05 603.75h4.4v2.25h-4.4z M923.95 603.16h4.4v2.84h-4.4z M929.85 601.76h4.4v4.24h-4.4z M947.55 601.99h4.4v4.01h-4.4z M953.46 601.06h4.4v4.94h-4.4z M959.36 599.29h4.4v6.71h-4.4z M965.26 598.21h4.4v7.79h-4.4z M971.16 597.52h4.4v8.48h-4.4z M977.06 594.11h4.4v11.89h-4.4z M982.96 590.2h4.4v15.8h-4.4z M988.87 589.47h4.4v16.53h-4.4z M994.77 583.76h4.4v22.24h-4.4z M1000.67 579.19h4.4v26.81h-4.4z M1006.57 577.88h4.4v28.12h-4.4z M1036.08 592.67h4.4v13.33h-4.4z" fill="#26a69a"/>
<path d="M38.71 604.67h4.4v1.33h-4.4z M44.61 605.07h4.4v0.93h-4.4z M50.51 605.4h4.4v0.6h-4.4z M192.15 605.4h4.4v0.6h-4.4z M215.76 604.18h4.4v1.82h-4.4z M221.66 604.72h4.4v1.28h-4.4z M227.56 605.4h4.4v0.6h-4.4z M286.58 601.62h4.4v4.38h-4.4z M292.48 602.29h4.4v3.71h-4.4z M298.38 603.8h4.4v2.2h-4.4z M304.28 605.16h4.4v0.84h-4.4z M310.18 605.4h4.4v0.6h-4.4z M381 604.84h4.4v1.16h-4.4z M392.8 604.76h4.4v1.24h-4.4z M398.71 604.87h4.4v1.13h-4.4z M410.51 604.61h4.4v1.39h-4.4z M416.41 605.08h4.4v0.92h-4.4z M422.31 605.4h4.4v0.6h-4.4z M440.02 605.4h4.4v0.6h-4.4z M546.25 603.26h4.4v2.74h-4.4z M569.85 601.73h4.4v4.27h-4.4z M575.75 601.89h4.4v4.11h-4.4z M581.66 602.58h4.4v3.42h-4.4z M587.56 602.99h4.4v3.01h-4.4z M593.46 603.16h4.4v2.84h-4.4z M611.16 602.98h4.4v3.02h-4.4z M617.06 603.12h4.4v2.88h-4.4z M622.97 603.55h4.4v2.45h-4.4z M628.87 603.97h4.4v2.03h-4.4z M634.77 604.01h4.4v1.99h-4.4z M640.67 604.5h4.4v1.5h-4.4z M646.57 604.55h4.4v1.45h-4.4z M652.47 604.66h4.4v1.34h-4.4z M658.38 605.07h4.4v0.93h-4.4z M664.28 605.38h4.4v0.62h-4.4z M670.18 605.4h4.4v0.6h-4.4z M687.88 605.4h4.4v0.6h-4.4z M693.79 605.4h4.4v0.6h-4.4z M758.7 605.2h4.4v0.8h-4.4z M764.6 605.4h4.4v0.6h-4.4z M770.51 605.4h4.4v0.6h-4.4z M776.41 605.4h4.4v0.6h-4.4z M782.31 605.4h4.4v0.6h-4.4z M788.21 605.4h4.4v0.6h-4.4z M805.92 604.56h4.4v1.44h-4.4z M811.82 604.9h4.4v1.1h-4.4z M817.72 605.22h4.4v0.78h-4.4z M823.62 605.4h4.4v0.6h-4.4z M835.42 605.4h4.4v0.6h-4.4z M859.03 605.35h4.4v0.65h-4.4z M876.74 605.36h4.4v0.64h-4.4z M882.64 605.4h4.4v0.6h-4.4z M935.75 602.2h4.4v3.8h-4.4z M941.65 602.53h4.4v3.47h-4.4z M1012.47 582.79h4.4v23.21h-4.4z M1018.37 587.98h4.4v18.02h-4.4z M1024.28 589.83h4.4v16.17h-4.4z M1030.18 592.85h4.4v13.15h-4.4z M1041.98 595.02h4.4v10.98h-4.4z M1047.88 599.17h4.4v6.83h-4.4z M1053.78 603.47h4.4v2.53h-4.4z" fill="#b2dfdb"/>
<path d="M91.82 606h4.4v3.19h-4.4z M127.23 606h4.4v5.09h-4.4z M133.13 606h4.4v4.33h-4.4z M139.04 606h4.4v3.74h-4.4z M144.94 606h4.4v3.21h-4.4z M150.84 606h4.4v1.63h-4.4z M156.74 606h4.4v0.95h-4.4z M162.64 606h4.4v0.6h-4.4z M239.36 606h4.4v0.87h-4.4z M345.59 606h4.4v2.37h-4.4z M351.49 606h4.4v1.35h-4.4z M357.39 606h4.4v0.6h-4.4z M475.43 606h4.4v1.43h-4.4z M481.33 606h4.4v0.67h-4.4z M499.03 606h4.4v0.6h-4.4z M729.2 606h4.4v1.26h-4.4z M735.1 606h4.4v0.6h-4.4z M741 606h4.4v0.6h-4.4z M894.44 606h4.4v0.6h-4.4z M1118.7 606h4.4v18.7h-4.4z M1142.31 606h4.4v22.62h-4.4z M1148.21 606h4.4v20.65h-4.4z M1154.11 606h4.4v19.59h-4.4z M1160.01 606h4.4v18.4h-4.4z M1165.91 606h4.4v17.12h-4.4z M1171.82 606h4.4v14.14h-4.4z M1177.72 606h4.4v11.07h-4.4z M1183.62 606h4.4v8.54h-4.4z M1189.52 606h4.4v6.45h-4.4z M1195.42 606h4.4v5.69h-4.4z M1201.32 606h4.4v3.39h-4.4z M1207.22 606h4.4v0.98h-4.4z M1213.13 606h4.4v0.6h-4.4z" fill="#ffcdd2"/>
<path d="M56.41 606h4.4v0.6h-4.4z M62.31 606h4.4v0.81h-4.4z M68.22 606h4.4v1.39h-4.4z M74.12 606h4.4v1.82h-4.4z M80.02 606h4.4v3.01h-4.4z M85.92 606h4.4v3.21h-4.4z M97.72 606h4.4v3.61h-4.4z M103.63 606h4.4v4.29h-4.4z M109.53 606h4.4v4.88h-4.4z M115.43 606h4.4v4.92h-4.4z M121.33 606h4.4v5.13h-4.4z M168.54 606h4.4v0.6h-4.4z M174.44 606h4.4v0.6h-4.4z M180.35 606h4.4v0.6h-4.4z M233.46 606h4.4v1.04h-4.4z M316.08 606h4.4v0.6h-4.4z M321.98 606h4.4v1.08h-4.4z M327.89 606h4.4v1.62h-4.4z M333.79 606h4.4v2.42h-4.4z M339.69 606h4.4v2.77h-4.4z M445.92 606h4.4v0.6h-4.4z M451.82 606h4.4v0.78h-4.4z M457.72 606h4.4v1.7h-4.4z M463.62 606h4.4v1.74h-4.4z M469.52 606h4.4v1.8h-4.4z M493.13 606h4.4v0.6h-4.4z M699.69 606h4.4v0.6h-4.4z M705.59 606h4.4v1.3h-4.4z M711.49 606h4.4v2.07h-4.4z M717.39 606h4.4v2.3h-4.4z M723.29 606h4.4v2.51h-4.4z M888.54 606h4.4v0.6h-4.4z M1059.68 606h4.4v2.2h-4.4z M1065.59 606h4.4v5.17h-4.4z M1071.49 606h4.4v6.68h-4.4z M1077.39 606h4.4v7.36h-4.4z M1083.29 606h4.4v9.15h-4.4z M1089.19 606h4.4v11.07h-4.4z M1095.09 606h4.4v13.05h-4.4z M1101 606h4.4v15.84h-4.4z M1106.9 606h4.4v18.4h-4.4z M1112.8 606h4.4v19.49h-4.4z M1124.6 606h4.4v21.87h-4.4z M1130.5 606h4.4v22.38h-4.4z M1136.41 606h4.4v23.03h-4.4z M1219.03 606h4.4v0.95h-4.4z M1224.93 606h4.4v1.7h-4.4z M1230.83 606h4.4v2.08h-4.4z" fill="#ff5252"/>
<polyline points="11.4,603.11 17.3,602.72 23.2,602.12 29.1,601.36 35.01,600.65 40.91,600.56 46.81,600.73 52.71,600.96 58.61,601.91 64.51,602.61 70.42,603.53 76.32,604.43 82.22,606.36 88.12,607.37 94.02,608.15 99.92,609.47 105.83,611.22 111.73,613.04 117.63,614.3 123.53,615.79 129.43,617.03 135.33,617.35 141.24,617.69 147.14,617.97 153.04,616.79 158.94,616.35 164.84,615.58 170.74,615.85 176.64,615.98 182.55,616.3 188.45,614.91 194.35,614.88 200.25,613.85 206.15,612.72 212.05,612.06 217.96,611.85 223.86,612.08 229.76,612.92 235.66,614.56 241.56,614.62 247.46,612.76 253.37,611.02 259.27,609.63 265.17,608.3 271.07,606.58 276.97,605.24 282.87,603.58 288.78,602.83 294.68,602.58 300.58,603.53 306.48,604.69 312.38,605.17 318.28,606.08 324.18,606.93 330.09,607.88 335.99,609.28 341.89,610.32 347.79,610.51 353.69,609.83 359.59,609.14 365.5,608.35 371.4,607.52 377.3,606.84 383.2,606.6 389.1,606.11 395,605.88 400.91,605.71 406.81,604.89 412.71,604.71 418.61,604.95 424.51,605.54 430.41,604.95 436.32,604.49 442.22,604.99 448.12,605.91 454.02,606.42 459.92,607.77 465.82,608.24 471.72,608.75 477.63,608.74 483.53,608.14 489.43,607.46 495.33,607.88 501.23,607.88 507.13,607.54 513.04,606.94 518.94,605.6 524.84,604.72 530.74,603.32 536.64,602.41 542.54,601.63 548.45,601.1 554.35,599.88 560.25,597.99 566.15,596.19 572.05,595.53 577.95,594.66 583.86,594.5 589.76,594.15 595.66,593.61 601.56,592.52 607.46,591.67 613.36,591.09 619.26,590.51 625.17,590.32 631.07,590.24 636.97,589.78 642.87,589.9 648.77,589.58 654.67,589.36 660.58,589.53 666.48,589.7 672.38,589.63 678.28,589.25 684.18,588.92 690.08,589.1 695.99,589.15 701.89,590.26 707.79,591.31 713.69,592.6 719.59,593.4 725.49,594.23 731.4,593.31 737.3,592.54 743.2,592.58 749.1,591.72 755,591.07 760.9,590.92 766.8,590.96 772.71,591.43 778.61,591.43 784.51,591.47 790.41,591.49 796.31,590.33 802.21,589.3 808.12,589.07 814.02,589.14 819.92,589.26 825.82,589.55 831.72,589.35 837.62,589.32 843.53,589.17 849.43,588.64 855.33,588.35 861.23,588.4 867.13,588.12 873.03,586.91 878.94,587.68 884.84,588.26 890.74,589.05 896.64,589.06 902.54,588.5 908.44,587.82 914.34,586.9 920.25,585.3 926.15,584 932.05,581.54 937.95,581.03 943.85,580.49 949.75,578.95 955.66,576.79 961.56,573.34 967.46,570.31 973.36,567.5 979.26,561.11 985.16,553.25 991.07,548.39 996.97,537.12 1002.87,525.85 1008.77,517.51 1014.67,516.61 1020.57,517.31 1026.48,515.11 1032.38,514.85 1038.28,511.33 1044.18,510.93 1050.08,513.38 1055.98,517.05 1061.88,522.33 1067.79,526.59 1073.69,529.77 1079.59,532.29 1085.49,536.37 1091.39,541.05 1097.29,546.3 1103.2,553.05 1109.1,560.21 1115,566.17 1120.9,570.05 1126.8,578.69 1132.7,584.79 1138.61,591.21 1144.51,596.44 1150.41,599.64 1156.31,603.47 1162.21,606.88 1168.11,609.88 1174.02,610.43 1179.92,610.14 1185.82,609.74 1191.72,609.26 1197.62,609.93 1203.52,608.47 1209.42,606.31 1215.33,605.61 1221.23,606.57 1227.13,607.75 1233.03,608.64" fill="none" stroke="#2962ff" stroke-width="1.1"/>
<polyline points="11.4,603.22 17.3,603.12 23.2,602.92 29.1,602.61 35.01,602.22 40.91,601.89 46.81,601.65 52.71,601.51 58.61,601.59 64.51,601.8 70.42,602.15 76.32,602.6 82.22,603.35 88.12,604.16 94.02,604.95 99.92,605.86 105.83,606.93 111.73,608.15 117.63,609.38 123.53,610.66 129.43,611.94 135.33,613.02 141.24,613.95 147.14,614.76 153.04,615.16 158.94,615.4 164.84,615.44 170.74,615.52 176.64,615.61 182.55,615.75 188.45,615.58 194.35,615.44 200.25,615.12 206.15,614.64 212.05,614.13 217.96,613.67 223.86,613.35 229.76,613.27 235.66,613.53 241.56,613.74 247.46,613.55 253.37,613.04 259.27,612.36 265.17,611.55 271.07,610.55 276.97,609.49 282.87,608.31 288.78,607.21 294.68,606.29 300.58,605.74 306.48,605.53 312.38,605.46 318.28,605.58 324.18,605.85 330.09,606.25 335.99,606.86 341.89,607.55 347.79,608.15 353.69,608.48 359.59,608.61 365.5,608.56 371.4,608.35 377.3,608.05 383.2,607.76 389.1,607.43 395,607.12 400.91,606.84 406.81,606.45 412.71,606.1 418.61,605.87 424.51,605.8 430.41,605.63 436.32,605.4 442.22,605.32 448.12,605.44 454.02,605.64 459.92,606.06 465.82,606.5 471.72,606.95 477.63,607.31 483.53,607.47 489.43,607.47 495.33,607.55 501.23,607.62 507.13,607.6 513.04,607.47 518.94,607.1 524.84,606.62 530.74,605.96 536.64,605.25 542.54,604.53 548.45,603.84 554.35,603.05 560.25,602.04 566.15,600.87 572.05,599.8 577.95,598.77 583.86,597.92 589.76,597.17 595.66,596.45 601.56,595.67 607.46,594.87 613.36,594.11 619.26,593.39 625.17,592.78 631.07,592.27 636.97,591.77 642.87,591.4 648.77,591.03 654.67,590.7 660.58,590.46 666.48,590.31 672.38,590.17 678.28,589.99 684.18,589.78 690.08,589.64 695.99,589.54 701.89,589.69 707.79,590.01 713.69,590.53 719.59,591.1 725.49,591.73 731.4,592.04 737.3,592.14 743.2,592.23 749.1,592.13 755,591.92 760.9,591.72 766.8,591.57 772.71,591.54 778.61,591.52 784.51,591.51 790.41,591.5 796.31,591.27 802.21,590.88 808.12,590.51 814.02,590.24 819.92,590.04 825.82,589.95 831.72,589.83 837.62,589.73 843.53,589.61 849.43,589.42 855.33,589.21 861.23,589.04 867.13,588.86 873.03,588.47 878.94,588.31 884.84,588.3 890.74,588.45 896.64,588.57 902.54,588.56 908.44,588.41 914.34,588.11 920.25,587.55 926.15,586.84 932.05,585.78 937.95,584.83 943.85,583.96 949.75,582.96 955.66,581.72 961.56,580.05 967.46,578.1 973.36,575.98 979.26,573.01 985.16,569.06 991.07,564.92 996.97,559.36 1002.87,552.66 1008.77,545.63 1014.67,539.83 1020.57,535.32 1026.48,531.28 1032.38,527.99 1038.28,524.66 1044.18,521.91 1050.08,520.21 1055.98,519.57 1061.88,520.13 1067.79,521.42 1073.69,523.09 1079.59,524.93 1085.49,527.22 1091.39,529.98 1097.29,533.25 1103.2,537.21 1109.1,541.81 1115,546.68 1120.9,551.35 1126.8,556.82 1132.7,562.41 1138.61,568.17 1144.51,573.83 1150.41,578.99 1156.31,583.89 1162.21,588.49 1168.11,592.76 1174.02,596.3 1179.92,599.07 1185.82,601.2 1191.72,602.81 1197.62,604.24 1203.52,605.08 1209.42,605.33 1215.33,605.38 1221.23,605.62 1227.13,606.05 1233.03,606.57" fill="none" stroke="#ff6d00" stroke-width="1.1"/></g>
<path d="M12 348.5H1588M12 495.5H1588" stroke="#e0e3eb" stroke-width="1"/>
<text x="12" y="21.5" font-size="13" fill="#1e222d" textLength="454" lengthAdjust="spacingAndGlyphs">ParshwaTurakhiya28 published on TradingView.com, May 10, 2025 09:42 UTC</text>
<text x="20.6" y="52" font-size="13" fill="#1e222d" textLength="189.4" lengthAdjust="spacingAndGlyphs">Pyth Network/Tether · 30 · OKX</text>
<text x="218.2" y="52" font-size="13" fill="#1e222d">O</text>
<text x="226.9" y="52" font-size="13" fill="#e0466a" textLength="39.3" lengthAdjust="spacingAndGlyphs">0.1879</text>
<text x="274.8" y="52" font-size="13" fill="#1e222d">H</text>
<text x="283" y="52" font-size="13" fill="#e0466a" textLength="39.5" lengthAdjust="spacingAndGlyphs">0.1886</text>
<text x="331.8" y="52" font-size="13" fill="#1e222d">L</text>
<text x="337.5" y="52" font-size="13" fill="#e0466a" textLength="39.3" lengthAdjust="spacingAndGlyphs">0.1868</text>
<text x="386.2" y="52" font-size="13" fill="#1e222d">C</text>
<text x="394.5" y="52" font-size="13" fill="#e0466a" textLength="38.5" lengthAdjust="spacingAndGlyphs">0.1875</text>
<text x="442.5" y="52" font-size="13" fill="#e0466a" textLength="45" lengthAdjust="spacingAndGlyphs">−0.0003</text>
<text x="493" y="52" font-size="13" fill="#e0466a" textLength="49" lengthAdjust="spacingAndGlyphs">(−0.16%)</text>
<text x="20.6" y="370" font-size="13" fill="#1e222d" textLength="83.8" lengthAdjust="spacingAndGlyphs">RSI (14, close)</text>
<text x="113" y="370" font-size="13" fill="#7e57c2" textLength="32.6" lengthAdjust="spacingAndGlyphs">46.00</text>
<text x="153.75" y="370" font-size="13" fill="#fdd835" textLength="32.5" lengthAdjust="spacingAndGlyphs">47.92</text>
<text x="20.4" y="517.4" font-size="13" fill="#1e222d" textLength="122.6" lengthAdjust="spacingAndGlyphs">MACD (12, 26, close)</text>
<text x="152" y="517.4" font-size="13" fill="#ff5252" textLength="46" lengthAdjust="spacingAndGlyphs">−0.0002</text>
<text x="207.6" y="517.4" font-size="13" fill="#2962ff" textLength="44.8" lengthAdjust="spacingAndGlyphs">−0.0003</text>
<text x="261.6" y="517.4" font-size="13" fill="#ff6d00" textLength="44.4" lengthAdjust="spacingAndGlyphs">−0.0001</text>
<text x="1569.5" y="100.6" font-size="13" fill="#1e222d" text-anchor="end" textLength="39.5" lengthAdjust="spacingAndGlyphs">0.2000</text>
<text x="1569.5" y="163.6" font-size="13" fill="#1e222d" text-anchor="end" textLength="39.5" lengthAdjust="spacingAndGlyphs">0.1800</text>
<text x="1569.5" y="226.8" font-size="13" fill="#1e222d" text-anchor="end" textLength="39.5" lengthAdjust="spacingAndGlyphs">0.1600</text>
<text x="1569.5" y="289.2" font-size="13" fill="#1e222d" text-anchor="end" textLength="39.5" lengthAdjust="spacingAndGlyphs">0.1400</text>
<rect x="1525.5" y="34.5" width="60" height="28" rx="2" fill="#fff" stroke="#f0f1f4"/>
<text x="1534.8" y="52.8" font-size="13" fill="#1e222d" textLength="30.4" lengthAdjust="spacingAndGlyphs">USDT</text>
<rect x="1521" y="127" width="47.5" height="17.7" fill="#f23645"/>
<text x="1564" y="140.5" font-size="13" fill="#fff" text-anchor="end" textLength="34" lengthAdjust="spacingAndGlyphs">17:56</text>
<clipPath id="rsiax"><rect x="1519" y="349.5" width="70" height="145"/></clipPath><g clip-path="url(#rsiax)">
<text x="1530" y="357.3" font-size="13" fill="#1e222d" textLength="40" lengthAdjust="spacingAndGlyphs">100.00</text>
<text x="1530" y="391.2" font-size="13" fill="#1e222d" textLength="33.5" lengthAdjust="spacingAndGlyphs">80.00</text>
<text x="1530" y="458.2" font-size="13" fill="#1e222d" textLength="33.5" lengthAdjust="spacingAndGlyphs">40.00</text>
<text x="1530" y="490.9" font-size="13" fill="#1e222d" textLength="33.5" lengthAdjust="spacingAndGlyphs">20.00</text>
</g>
<rect x="1521" y="415" width="47.8" height="19" fill="#fdd835"/>
<text x="1563.8" y="429.1" font-size="13" fill="#131722" text-anchor="end" textLength="33.2" lengthAdjust="spacingAndGlyphs">47.92</text>
<rect x="1521" y="434" width="47.8" height="17.5" fill="#7e57c2"/>
<text x="1563.8" y="447.4" font-size="13" fill="#fff" text-anchor="end" textLength="33.2" lengthAdjust="spacingAndGlyphs">46.00</text>
<text x="1529.7" y="532.1" font-size="13" fill="#1e222d" textLength="40.6" lengthAdjust="spacingAndGlyphs">0.0100</text>
<text x="1529.7" y="571.2" font-size="13" fill="#1e222d" textLength="40.6" lengthAdjust="spacingAndGlyphs">0.0050</text>
<rect x="1521" y="580" width="62" height="18" fill="#ff6d00"/>
<text x="1577.6" y="593.6" font-size="13" fill="#fff" text-anchor="end" textLength="46" lengthAdjust="spacingAndGlyphs">−0.0001</text>
<rect x="1521" y="598" width="62" height="19.5" fill="#ff5252"/>
<text x="1577.6" y="612.35" font-size="13" fill="#fff" text-anchor="end" textLength="46" lengthAdjust="spacingAndGlyphs">−0.0002</text>
<rect x="1521" y="617.5" width="62" height="18.3" fill="#2962ff"/>
<text x="1577.6" y="631.25" font-size="13" fill="#fff" text-anchor="end" textLength="46" lengthAdjust="spacingAndGlyphs">−0.0003</text>
<text x="58.61" y="662" font-size="13" fill="#1e222d" text-anchor="middle" textLength="32.5" lengthAdjust="spacingAndGlyphs">06:00</text>
<text x="129.43" y="662" font-size="13" fill="#1e222d" text-anchor="middle" textLength="32.5" lengthAdjust="spacingAndGlyphs">12:00</text>
<text x="200.25" y="662" font-size="13" fill="#1e222d" text-anchor="middle" textLength="32.5" lengthAdjust="spacingAndGlyphs">18:00</text>
<text x="271.07" y="662" font-size="13" fill="#1e222d" text-anchor="middle" font-weight="bold">7</text>
<text x="341.89" y="662" font-size="13" fill="#1e222d" text-anchor="middle" textLength="32.5" lengthAdjust="spacingAndGlyphs">06:00</text>
<text x="412.71" y="662" font-size="13" fill="#1e222d" text-anchor="middle" textLength="32.5" lengthAdjust="spacingAndGlyphs">12:00</text>
<text x="483.53" y="662" font-size="13" fill="#1e222d" text-anchor="middle" textLength="32.5" lengthAdjust="spacingAndGlyphs">18:00</text>
<text x="554.35" y="662" font-size="13" fill="#1e222d" text-anchor="middle" font-weight="bold">8</text>
<text x="625.17" y="662" font-size="13" fill="#1e222d" text-anchor="middle" textLength="32.5" lengthAdjust="spacingAndGlyphs">06:00</text>
<text x="695.99" y="662" font-size="13" fill="#1e222d" text-anchor="middle" textLength="32.5" lengthAdjust="spacingAndGlyphs">12:00</text>
<text x="766.8" y="662" font-size="13" fill="#1e222d" text-anchor="middle" textLength="32.5" lengthAdjust="spacingAndGlyphs">18:00</text>
<text x="837.62" y="662" font-size="13" fill="#1e222d" text-anchor="middle" font-weight="bold">9</text>
<text x="908.44" y="662" font-size="13" fill="#1e222d" text-anchor="middle" textLength="32.5" lengthAdjust="spacingAndGlyphs">06:00</text>
<text x="979.26" y="662" font-size="13" fill="#1e222d" text-anchor="middle" textLength="32.5" lengthAdjust="spacingAndGlyphs">12:00</text>
<text x="1050.08" y="662" font-size="13" fill="#1e222d" text-anchor="middle" textLength="32.5" lengthAdjust="spacingAndGlyphs">18:00</text>
<text x="1120.9" y="662" font-size="13" fill="#1e222d" text-anchor="middle" font-weight="bold">10</text>
<text x="1191.72" y="662" font-size="13" fill="#1e222d" text-anchor="middle" textLength="32.5" lengthAdjust="spacingAndGlyphs">06:00</text>
<text x="1262.54" y="662" font-size="13" fill="#1e222d" text-anchor="middle" textLength="32.5" lengthAdjust="spacingAndGlyphs">12:00</text>
<text x="1333.36" y="662" font-size="13" fill="#1e222d" text-anchor="middle" textLength="32.5" lengthAdjust="spacingAndGlyphs">18:00</text>
<text x="1404.18" y="662" font-size="13" fill="#1e222d" text-anchor="middle" font-weight="bold">11</text>
<text x="1475" y="662" font-size="13" fill="#1e222d" text-anchor="middle" textLength="32.5" lengthAdjust="spacingAndGlyphs">06:00</text>
<g transform="translate(11.8,687.2)" fill="#000"><path d="M0 0H8.1V10.2H2.8V3.7H0Z"/><circle cx="11.8" cy="1.8" r="1.8"/><path d="M15 0H21.1L17.5 10.2H12.2Z"/></g>
<text x="37.6" y="697.5" font-size="13.5" fill="#000" textLength="77" lengthAdjust="spacingAndGlyphs">TradingView</text>
</svg>
</body></html>
